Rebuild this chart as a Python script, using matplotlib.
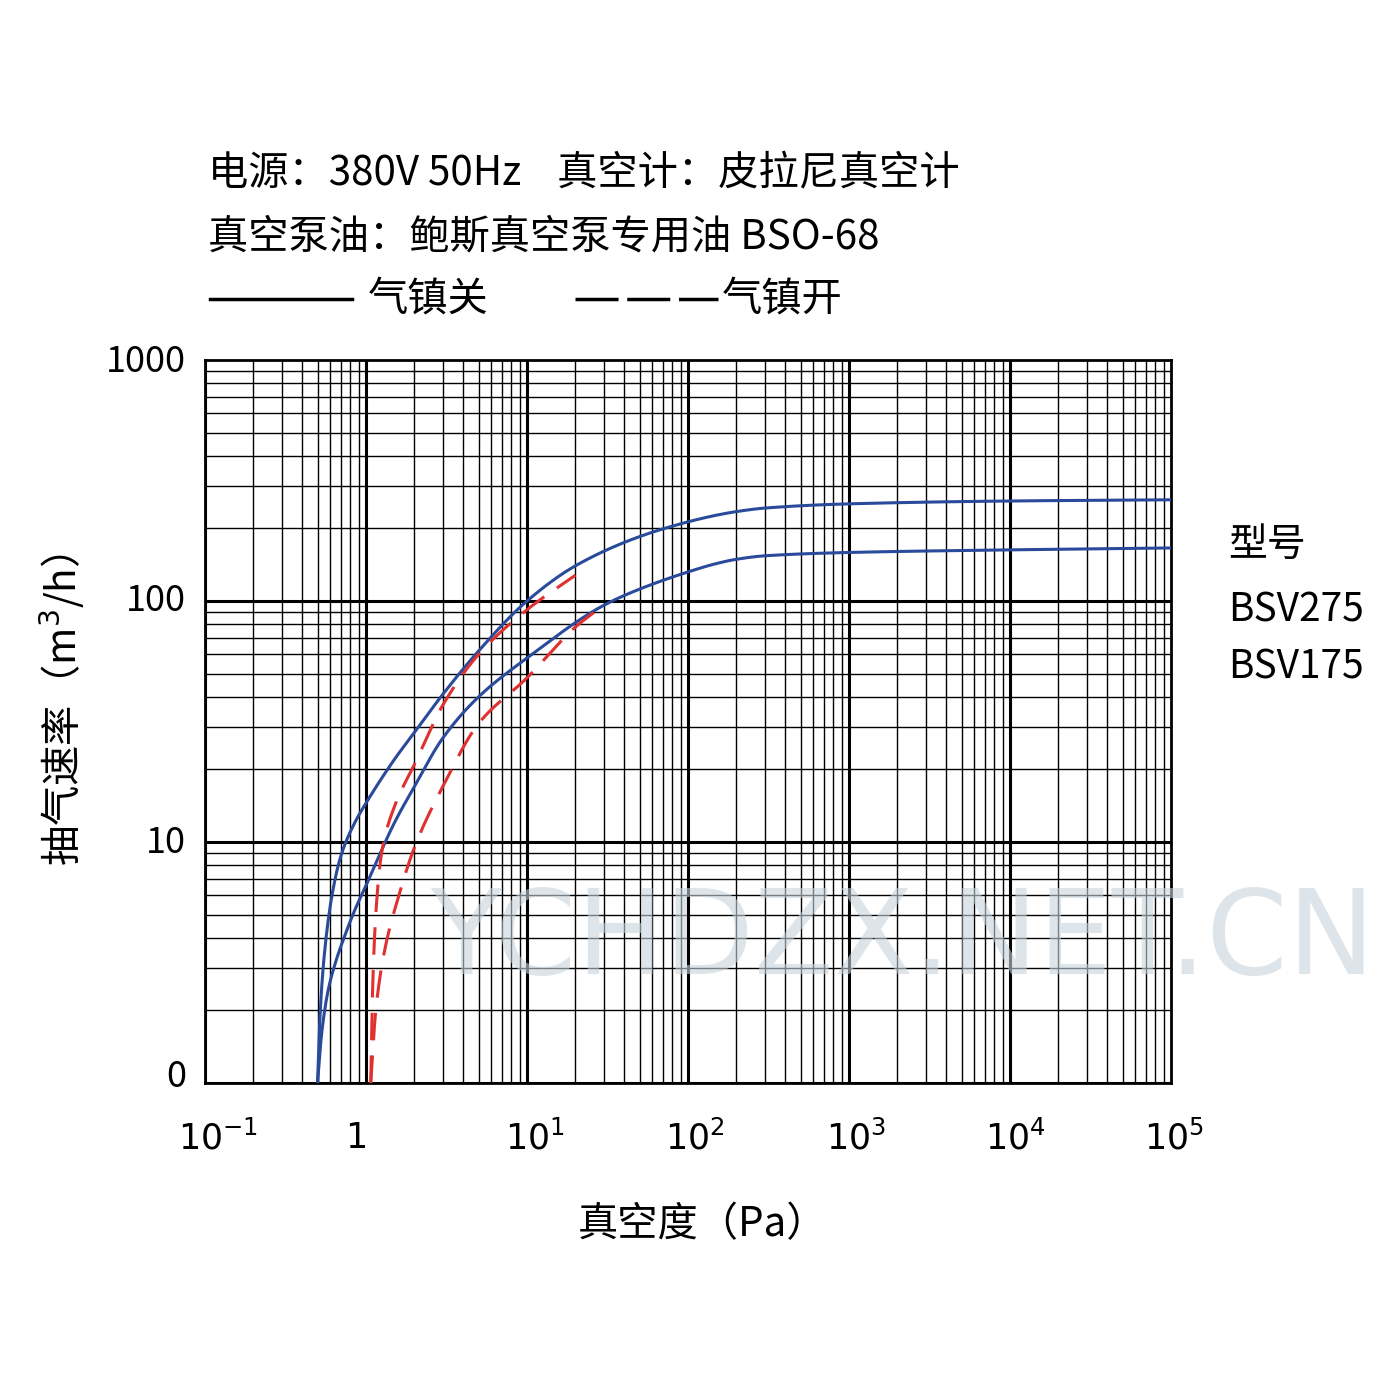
import numpy as np
import matplotlib
matplotlib.use("Agg")
import matplotlib.pyplot as plt

plt.rcParams['font.family'] = ['Noto Sans CJK SC', 'DejaVu Sans']
plt.rcParams['axes.unicode_minus'] = False

# pressure (Pa) vs pumping speed (m3/h)
p275 = [0.5, 0.52, 0.56, 0.62, 0.7, 0.85, 1.0, 1.5, 2, 3, 5, 10, 20, 50, 100, 150, 200, 300, 1000, 1e4, 1e5]
s275 = [1.0, 2.0, 3.8, 6.2, 8.8, 12, 14.5, 22, 28.5, 41, 62, 100, 140, 185, 213, 227, 235, 243, 253, 260, 263]
p175 = [0.5, 0.53, 0.58, 0.65, 0.75, 0.85, 1.0, 1.5, 2, 3, 5, 10, 30, 50, 100, 150, 200, 300, 1000, 1e4, 1e5]
s175 = [1.0, 1.6, 2.4, 3.2, 4.2, 5.2, 6.6, 12, 17, 27, 40, 58, 96, 112, 132, 143, 149, 154, 159, 163, 166]
p275_gb = [1.07, 1.1, 1.15, 1.25, 1.5, 2, 3, 5, 10, 20]
s275_gb = [1.0, 2.5, 5.0, 9.0, 14, 21, 37, 60, 92, 128]
p175_gb = [1.07, 1.15, 1.3, 1.6, 2, 3, 5, 10, 20, 28]
s175_gb = [1.0, 2.0, 3.5, 6.0, 9.5, 17, 31, 48, 78, 93]


def pchip(x, y, xn):
    x = np.asarray(x); y = np.asarray(y)
    h = np.diff(x); d = np.diff(y) / h
    m = np.zeros_like(y)
    for i in range(1, len(y) - 1):
        if d[i - 1] * d[i] > 0:
            w1 = 2 * h[i] + h[i - 1]; w2 = h[i] + 2 * h[i - 1]
            m[i] = (w1 + w2) / (w1 / d[i - 1] + w2 / d[i])
    m[0] = d[0]; m[-1] = d[-1]
    idx = np.clip(np.searchsorted(x, xn) - 1, 0, len(h) - 1)
    t = (xn - x[idx]) / h[idx]
    h00 = 2 * t**3 - 3 * t**2 + 1; h10 = t**3 - 2 * t**2 + t
    h01 = -2 * t**3 + 3 * t**2; h11 = t**3 - t**2
    return h00 * y[idx] + h10 * h[idx] * m[idx] + h01 * y[idx + 1] + h11 * h[idx] * m[idx + 1]


def smooth(p, s):
    lp = np.log10(p)
    x = np.linspace(lp[0], lp[-1], 800)
    return 10 ** x, 10 ** pchip(lp, np.log10(s), x)


fig = plt.figure(figsize=(14, 14), dpi=100)
ax = fig.add_axes([205 / 1400, 1 - 1083 / 1400, 966 / 1400, 723 / 1400])
ax.set_xscale('log')
ax.set_yscale('log')
ax.set_xlim(0.1, 1e5)
ax.set_ylim(1, 1000)

for d in range(-1, 5):
    for k in range(1, 10):
        ax.axvline(k * 10.0 ** d, color='black', lw=2.2 if k == 1 else 1.0, zorder=1)
for d in range(0, 3):
    for k in range(1, 10):
        ax.axhline(k * 10.0 ** d, color='black', lw=2.2 if k == 1 else 1.0, zorder=1)
for s in ax.spines.values():
    s.set_linewidth(2)
ax.set_xticks([])
ax.set_yticks([])
ax.minorticks_off()

blue = '#2a4b9b'
red = '#e03030'
for p, s in [(p275, s275), (p175, s175)]:
    x, y = smooth(p, s)
    ax.plot(x, y, color=blue, lw=2.2, zorder=3)
for p, s in [(p275_gb, s275_gb), (p175_gb, s175_gb)]:
    x, y = smooth(p, s)
    ax.plot(x, y, color=red, lw=2.2, ls=(0, (9, 5)), zorder=4)

# watermark
fig.text(903 / 1400, 1 - 942 / 1400, 'YCHDZX.NET.CN', fontsize=84, color='#c8d4dc',
         alpha=0.6, ha='center', va='center', family=['DejaVu Sans'], zorder=0)

fs = 26
ylabels = ['1000', '100', '10', '0']
ypos = [362, 601, 843, 1077]
for t, yp in zip(ylabels, ypos):
    fig.text(186 / 1400, 1 - yp / 1400, t, fontsize=fs, ha='right', va='center')
xlabels = ['10$^{-1}$', '1', '10$^{1}$', '10$^{2}$', '10$^{3}$', '10$^{4}$', '10$^{5}$']
xpos = [218, 356, 535, 695, 856, 1015, 1174]
for t, xp in zip(xlabels, xpos):
    fig.text(xp / 1400, 1 - 1138 / 1400, t, fontsize=25, ha='center', va='center',
             family=['DejaVu Sans'])

fig.text(703 / 1400, 1 - 1225 / 1400, '真空度（Pa）', fontsize=29, ha='center', va='center')
fig.text(62 / 1400, 1 - 710 / 1400, '抽气速率（m$^3$/h）', fontsize=29, rotation=90,
         ha='center', va='center')

fig.text(208 / 1400, 1 - 173 / 1400, '电源：380V 50Hz    真空计：皮拉尼真空计', fontsize=29, va='center')
fig.text(208 / 1400, 1 - 237 / 1400, '真空泵油：鲍斯真空泵专用油 BSO-68', fontsize=29, va='center')
fig.lines.append(plt.Line2D([210 / 1400, 352 / 1400], [1 - 299 / 1400] * 2, color='black', lw=2.5,
                            transform=fig.transFigure))
fig.text(368 / 1400, 1 - 299 / 1400, '气镇关', fontsize=29, va='center')
fig.lines.append(plt.Line2D([575 / 1400, 718 / 1400], [1 - 299 / 1400] * 2, color='black', lw=2.5,
                            ls=(0, (12.4, 2.5)), transform=fig.transFigure))
fig.text(722 / 1400, 1 - 299 / 1400, '气镇开', fontsize=29, va='center')

fig.text(1228 / 1400, 1 - 545 / 1400, '型号', fontsize=28, va='center')
fig.text(1228 / 1400, 1 - 611 / 1400, 'BSV275', fontsize=28, va='center')
fig.text(1228 / 1400, 1 - 668 / 1400, 'BSV175', fontsize=28, va='center')

fig.savefig('out.png', dpi=100, facecolor='white')
